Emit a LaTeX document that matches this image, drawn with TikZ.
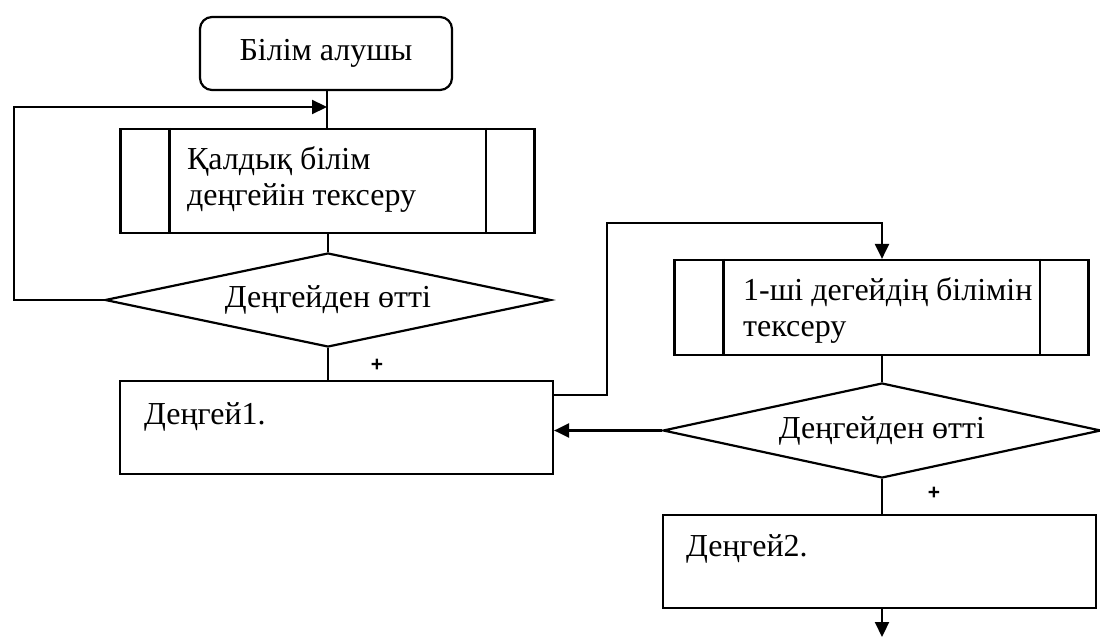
\documentclass[tikz,border=0pt]{standalone}
\usepackage{fontspec}
\setmainfont{Liberation Serif}
\newfontfamily\tnr{Liberation Serif}
\newfontfamily\arl{Liberation Sans}
\usetikzlibrary{shapes.geometric,arrows.meta}
\tikzset{
  box/.style={draw, line width=2.2pt, minimum width=433pt, minimum height=93pt, inner sep=0pt},
  subproc/.style={box, minimum width=414pt},
  dec/.style={draw, diamond, line width=2.2pt, aspect=4.7, inner sep=0pt, font=\tnr\fontsize{32}{36}\selectfont},
  lbl/.style={anchor=west, align=left, inner sep=0pt, font=\tnr\fontsize{32}{36}\selectfont},
  plus/.style={font=\arl\bfseries\fontsize{21}{21}\selectfont}
}
\begin{document}
\begin{tikzpicture}[x=1pt, y=-1pt, line width=2.2pt, >={Triangle[length=15pt,width=14pt]}]
  \useasboundingbox (0,0) rectangle (1100,639);
  % left column
  \node[draw, rounded corners=12pt, minimum width=252pt, minimum height=73pt, font=\tnr\fontsize{32}{36}\selectfont] (st) at (326,53.5) {Білім алушы};
  \node[subproc, minimum height=104pt] (ch) at (327.5,181) {};
  \node[lbl] (chT) at (186,180) {Қалдық білім\\деңгейін тексеру};
  \node[dec, minimum width=446pt, minimum height=94pt] (ps) at (328,300) {Деңгейден өтті};
  \node[box] (lv) at (336.5,427.5) {};
  \node[lbl] (lvT) at (143,417) {Деңгей1.};
  \node[plus] (p1) at (377,365) {+};
  % right column
  \node[subproc, minimum height=95pt] (ch2) at (881.5,307.5) {};
  \node[lbl] (ch2T) at (742,310) {1-ші дегейдің білімін\\тексеру};
  \node[dec, minimum width=438pt, minimum height=95pt] (ps2) at (882,430.5) {Деңгейден өтті};
  \node[box] (lv2) at (879.5,561.5) {};
  \node[lbl] (lv2T) at (685,549) {Деңгей2.};
  \node[plus] (p2) at (934,493) {+};
  \foreach \s in {ch,ch2}{
    \draw ([xshift=50pt]\s.north west) -- ([xshift=50pt]\s.south west);
    \draw ([xshift=-50pt]\s.north east) -- ([xshift=-50pt]\s.south east);
  }
  \coordinate (j1) at (327,107);
  \coordinate (k1) at (14,107);
  \coordinate (o1) at (607,395);
  \coordinate (j2) at (882,223);
  \coordinate (out) at (882,637);
  \draw (st.south -| j1) -- (ch.north -| j1);
  \draw[->] (ps.west) -| (k1) -- (j1);
  \draw (ch.south -| ps) -- (ps.north);
  \draw (ps.south) -- (ps.south |- lv.north);
  \draw[->] (lv.east |- o1) -- (o1) |- (j2) -- (ch2.north -| j2);
  \draw (ch2.south -| ps2) -- (ps2.north);
  \draw[->] (ps2.west) -- (lv.east |- ps2.west);
  \draw (ps2.south) -- (ps2.south |- lv2.north);
  \draw[->] (lv2.south -| out) -- (out);
\end{tikzpicture}
\end{document}
